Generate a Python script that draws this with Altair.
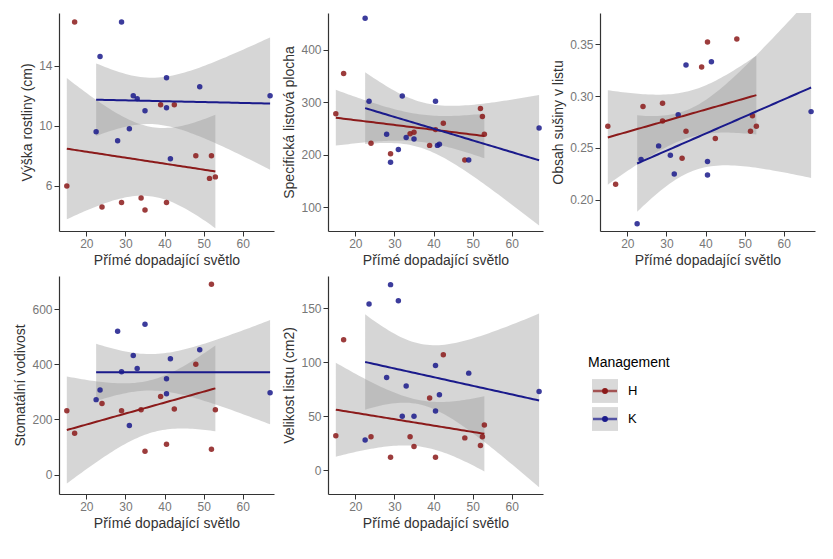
import altair as alt
import numpy as np
import pandas as pd

# light (x) and response values, per management group
h_x_1 = [15, 17, 24, 29, 34, 35, 39, 40.5, 42.5, 48, 51.5, 52, 53]
h_y_1 = [6.0, 16.9, 4.6, 4.9, 5.2, 4.4, 11.4, 4.9, 11.4, 8.0, 6.5, 8.0, 6.6]
k_x_1 = [22.5, 23.5, 28, 29, 31, 32, 33, 35, 40.5, 40.5, 41.5, 49, 67]
k_y_1 = [9.6, 14.6, 9.0, 16.9, 9.8, 12.0, 11.8, 11.0, 13.2, 11.2, 7.8, 12.6, 12.0]

h_x_2 = [15, 17, 24, 29, 34, 35, 39, 40.5, 42.5, 48, 52, 52.5, 53]
h_y_2 = [278, 355, 222, 202, 240, 243, 218, 248, 260, 190, 288, 273, 239]
k_x_2 = [22.5, 23.5, 28, 29, 31, 32, 33, 35, 40.5, 41, 41.5, 49, 67]
k_y_2 = [460, 302, 239, 186, 210, 312, 233, 230, 302, 218, 220, 190, 251]

h_x_3 = [15, 17, 24, 29, 29, 34, 35, 39, 40.5, 42.5, 48, 51.5, 52, 53]
h_y_3 = [0.271, 0.215, 0.290, 0.293, 0.276, 0.240, 0.266, 0.328, 0.352, 0.259,
         0.355, 0.266, 0.281, 0.271]
k_x_3 = [22.5, 23.5, 28, 31, 32, 33, 35, 40.5, 40.5, 41.5, 67]
k_y_3 = [0.177, 0.239, 0.252, 0.243, 0.225, 0.282, 0.330, 0.237, 0.224, 0.333, 0.285]

h_x_4 = [15, 17, 24, 29, 34, 35, 39, 40.5, 42.5, 48, 52, 52, 53]
h_y_4 = [232, 150, 258, 232, 235, 85, 283, 110, 238, 400, 690, 92, 235]
k_x_4 = [22.5, 23.5, 28, 29, 31, 32, 33, 35, 40.5, 40.5, 41.5, 49, 67]
k_y_4 = [272, 307, 520, 373, 178, 432, 385, 545, 348, 293, 420, 453, 297]

h_x_5 = [15, 17, 24, 29, 34, 35, 39, 40.5, 42.5, 48, 52, 52.5, 53]
h_y_5 = [32, 121, 31, 12, 31, 22, 67, 12, 107, 30, 23, 31, 42]
k_x_5 = [22.5, 23.5, 28, 29, 31, 32, 33, 35, 40.5, 40.5, 41.5, 49, 67]
k_y_5 = [28, 154, 86, 172, 157, 50, 78, 50, 97, 55, 70, 90, 73]

x_title = "Přímé dopadající světlo"
groups = ["H", "K"]
colors = ["#8b1a1a", "#1a1a8b"]
T95 = {9: 2.262, 10: 2.228, 11: 2.201, 12: 2.179}
color_scale = alt.Scale(domain=groups, range=colors)


def fit_band(x, y, group):
    # OLS fit with 95% confidence band, like geom_smooth(method="lm")
    x = np.asarray(x, float)
    y = np.asarray(y, float)
    n = len(x)
    b, a = np.polyfit(x, y, 1)
    resid = y - (a + b * x)
    s = np.sqrt((resid ** 2).sum() / (n - 2))
    sxx = ((x - x.mean()) ** 2).sum()
    grid = np.linspace(x.min(), x.max(), 60)
    fit = a + b * grid
    se = s * np.sqrt(1 / n + (grid - x.mean()) ** 2 / sxx)
    t = T95[n - 2]
    return pd.DataFrame({"x": grid, "fit": fit, "lo": fit - t * se,
                         "hi": fit + t * se, "Management": group})


def panel(hx, hy, kx, ky, title, ticks, domain, fmt):
    pts = pd.concat([
        pd.DataFrame({"x": hx, "y": hy, "Management": "H"}),
        pd.DataFrame({"x": kx, "y": ky, "Management": "K"}),
    ])
    bands = pd.concat([fit_band(hx, hy, "H"), fit_band(kx, ky, "K")])
    xs = alt.X("x:Q", title=x_title, scale=alt.Scale(domain=[13, 68], nice=False),
               axis=alt.Axis(values=[20, 30, 40, 50, 60]))
    yscale = alt.Scale(domain=domain, nice=False, zero=False)
    yaxis = alt.Axis(values=ticks, format=fmt)
    color = alt.Color("Management:N", scale=color_scale, legend=None)
    band = alt.Chart(bands).mark_area(color="#999999", opacity=0.4, clip=True).encode(
        x=xs, y=alt.Y("lo:Q", title=title, scale=yscale, axis=yaxis),
        y2="hi:Q", detail="Management:N")
    line = alt.Chart(bands).mark_line(strokeWidth=2, clip=True).encode(
        x=xs, y=alt.Y("fit:Q", title=title, scale=yscale, axis=yaxis), color=color)
    dots = alt.Chart(pts).mark_circle(size=30, opacity=0.85).encode(
        x=xs, y=alt.Y("y:Q", title=title, scale=yscale, axis=yaxis), color=color)
    return alt.layer(band, dots, line).properties(width=215, height=218)


p1 = panel(h_x_1, h_y_1, k_x_1, k_y_1, "Výška rostliny (cm)", [6, 10, 14], [3, 17.5], "d")
p2 = panel(h_x_2, h_y_2, k_x_2, k_y_2, "Specifická listová plocha", [100, 200, 300, 400],
           [55, 470], "d")
p3 = panel(h_x_3, h_y_3, k_x_3, k_y_3, "Obsah sušiny v listu", [0.20, 0.25, 0.30, 0.35],
           [0.17, 0.38], ".2f")
p4 = panel(h_x_4, h_y_4, k_x_4, k_y_4, "Stomatální vodivost", [0, 200, 400, 600],
           [-70, 720], "d")
p5 = panel(h_x_5, h_y_5, k_x_5, k_y_5, "Velikost listu (cm2)", [0, 50, 100, 150],
           [-22, 180], "d")

# hand-built ggplot-style legend
leg_base = alt.Chart(pd.DataFrame({"Management": groups})).encode(
    y=alt.Y("Management:N", axis=None, scale=alt.Scale(paddingInner=0.15)))
leg_color = alt.Color("Management:N", scale=color_scale, legend=None)
leg_keys = leg_base.mark_rect(color="#d9d9d9").encode(x=alt.value(38), x2=alt.value(64))
leg_lines = leg_base.mark_tick(thickness=2.5, size=24, orient="horizontal").encode(
    x=alt.value(51), color=leg_color)
leg_pts = leg_base.mark_circle(size=35, opacity=1).encode(x=alt.value(51), color=leg_color)
leg_text = leg_base.mark_text(align="left", fontSize=13, font="Liberation Sans").encode(
    x=alt.value(74), text="Management:N")
leg_title = alt.Chart(pd.DataFrame({"t": ["Management"]})).mark_text(
    align="left", fontSize=14, font="Liberation Sans").encode(
    x=alt.value(34), y=alt.value(-14), text="t:N")
legend_chart = alt.layer(leg_keys, leg_lines, leg_pts, leg_text, leg_title).properties(
    width=170, height=56)
legend_col = alt.vconcat(
    alt.Chart(pd.DataFrame({"a": [0]})).mark_point(opacity=0).encode(
        x=alt.value(0), y=alt.value(0)).properties(width=170, height=80),
    legend_chart, spacing=0)

chart = alt.vconcat(
    alt.hconcat(p1, p2, p3, spacing=8),
    alt.hconcat(p4, p5, legend_col, spacing=8),
    spacing=6,
).configure_view(strokeWidth=0).configure_axis(
    grid=False, domainColor="#333333", domainWidth=1.2, tickColor="#333333",
    labelColor="#777777", labelFontSize=12, titleFontSize=14,
    titleFontWeight="normal", titleColor="#333333", labelFont="Liberation Sans",
    titleFont="Liberation Sans",
)

chart.save("out.html", embed_options={"renderer": "svg", "actions": False})
